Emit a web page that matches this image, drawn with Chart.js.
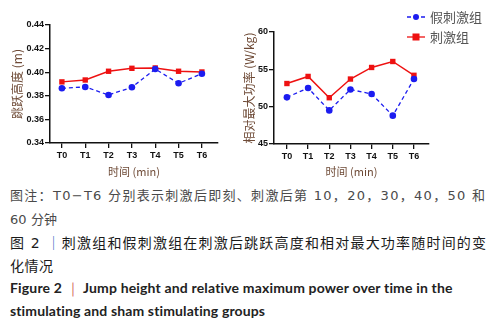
<!DOCTYPE html>
<html>
<head>
<meta charset="utf-8">
<script src="https://cdn.jsdelivr.net/npm/chart.js@4/dist/chart.umd.min.js"></script>
<style>
  body { margin: 0; background: #fff; width: 493px; height: 327px; overflow: hidden; position: relative; }
  .box { position: absolute; top: 0; height: 180px; }
  #leftBox { left: 0; width: 240px; }
  #rightBox { left: 240px; width: 253px; }
  .cap { position: absolute; left: 10px; white-space: nowrap; font-family: "DejaVu Sans", "Noto Sans CJK SC", sans-serif; line-height: 1; }
  .note { font-size: 13px; color: #4a4a4a; }
  .title { font-size: 14px; color: #1a1a1a; }
  .en { font-family: Lato, "Open Sans", sans-serif; font-weight: bold; font-size: 14px; color: #222; }
</style>
</head>
<body>
<div class="box" id="leftBox"><canvas id="jumpChart"></canvas></div>
<div class="box" id="rightBox"><canvas id="powerChart"></canvas></div>

<div class="cap note" style="top:189px" data-w="475">图注：T0−T6 分别表示刺激后即刻、刺激后第 10，20，30，40，50 和</div>
<div class="cap note" style="top:213px" data-w="47">60 分钟</div>
<div class="cap title" style="top:236px" data-w="476">图 2 <span style="color:#3060c0">｜</span>刺激组和假刺激组在刺激后跳跃高度和相对最大功率随时间的变</div>
<div class="cap title" style="top:259px" data-w="43">化情况</div>
<div class="cap en" style="top:281px" data-w="443">Figure 2 <span style="color:#d05050;font-weight:normal">｜</span> Jump height and relative maximum power over time in the</div>
<div class="cap en" style="top:304px" data-w="256">stimulating and sham stimulating groups</div>

<script>
// 数据
const timeLabels = ['T0', 'T1', 'T2', 'T3', 'T4', 'T5', 'T6'];
const jumpSham = [0.3864, 0.3875, 0.3807, 0.3872, 0.4027, 0.3906, 0.3987];
const jumpStim = [0.3918, 0.3934, 0.4008, 0.4033, 0.4036, 0.4008, 0.4002];
const powerSham = [51.25, 52.5, 49.5, 52.3, 51.7, 48.8, 53.7];
const powerStim = [53.1, 54.05, 51.2, 53.7, 55.25, 56.05, 54.2];
const jumpTicks = [0.34, 0.36, 0.38, 0.40, 0.42, 0.44];
const powerTicks = [45, 50, 55, 60];

const blue = '#1c1cf0';
const red = '#ee1111';
const titleColor = '#6e4a36';

function toPoints(arr) {
    return arr.map(function(v, i) { return { x: i, y: v }; });
}

function makeDatasets(sham, stim) {
    return [{
        label: '假刺激组',
        data: toPoints(sham),
        borderColor: blue,
        backgroundColor: blue,
        borderWidth: 1.3,
        borderDash: [4, 3],
        pointStyle: 'circle',
        pointRadius: 3.3,
        pointBorderWidth: 0
    }, {
        label: '刺激组',
        data: toPoints(stim),
        borderColor: red,
        backgroundColor: red,
        borderWidth: 1.5,
        pointStyle: 'rect',
        pointRadius: 3.8,
        pointBorderWidth: 0
    }];
}

// 自己画图例
const legendPlugin = {
    id: 'customLegend',
    afterDraw: function(chart, args, opts) {
        if (!opts.show) return;
        const ctx = chart.ctx;
        ctx.save();
        chart.data.datasets.forEach(function(ds, i) {
            const y = opts.y + i * opts.gap;
            ctx.strokeStyle = ds.borderColor;
            ctx.lineWidth = 1.3;
            ctx.setLineDash(ds.borderDash || []);
            ctx.beginPath();
            ctx.moveTo(opts.x, y);
            ctx.lineTo(opts.x + 18, y);
            ctx.stroke();
            ctx.setLineDash([]);
            ctx.fillStyle = ds.backgroundColor;
            if (ds.pointStyle === 'rect') {
                ctx.fillRect(opts.x + 9 - 3.5, y - 3.5, 7, 7);
            } else {
                ctx.beginPath();
                ctx.arc(opts.x + 9, y, 3, 0, Math.PI * 2);
                ctx.fill();
            }
            ctx.fillStyle = '#555';
            ctx.font = '13px "Noto Sans CJK SC"';
            ctx.textBaseline = 'middle';
            ctx.fillText(ds.label, opts.x + 23, y);
        });
        ctx.restore();
    }
};

function makeConfig(sham, stim, o) {
    return {
        type: 'line',
        data: { datasets: makeDatasets(sham, stim) },
        options: {
            responsive: true,
            maintainAspectRatio: false,
            animation: false,
            layout: { padding: { top: o.top, right: o.right, left: 0, bottom: 0 } },
            plugins: {
                legend: { display: false },
                tooltip: { enabled: false },
                customLegend: o.legend
            },
            scales: {
                x: {
                    type: 'linear',
                    min: o.xmin,
                    max: o.xmax,
                    afterFit: function(scale) { scale.height = o.xh; },
                    ticks: {
                        stepSize: 1,
                        includeBounds: false,
                        color: '#111',
                        font: { family: 'Liberation Sans', size: 9, weight: 'bold' },
                        padding: 2,
                        maxRotation: 0,
                        callback: function(v) { return timeLabels[v]; }
                    },
                    grid: { display: true, drawOnChartArea: false, drawTicks: true, tickLength: 5, color: '#111', lineWidth: 1.3 },
                    border: { color: '#111', width: 1.5 },
                    title: {
                        display: true,
                        text: '时间 (min)',
                        color: titleColor,
                        font: { family: 'Noto Sans CJK SC', size: 11 },
                        padding: { top: 0, bottom: 2 }
                    }
                },
                y: {
                    min: o.ymin,
                    max: o.ymax,
                    afterFit: function(scale) { scale.width = o.yw; },
                    afterBuildTicks: function(scale) {
                        scale.ticks = o.yticks.map(function(v) { return { value: v }; });
                    },
                    ticks: {
                        color: '#111',
                        font: { family: 'Liberation Sans', size: 9, weight: 'bold' },
                        padding: 1,
                        callback: function(v) { return o.fmt(v); }
                    },
                    grid: { display: true, drawOnChartArea: false, drawTicks: true, tickLength: 5, color: '#111', lineWidth: 1.3 },
                    border: { color: '#111', width: 1.5 },
                    title: {
                        display: true,
                        text: o.ytitle,
                        color: titleColor,
                        font: { family: 'Noto Sans CJK SC', size: 12 },
                        padding: { top: o.ytp, bottom: 0 }
                    }
                }
            }
        },
        plugins: [legendPlugin]
    };
}

new Chart(document.getElementById('jumpChart'), makeConfig(jumpSham, jumpStim, {
    top: 25, right: 22, xh: 37, yw: 50,
    xmin: -0.51, xmax: 6.69,
    ymin: 0.34, ymax: 0.44, yticks: jumpTicks,
    fmt: function(v) { return v.toFixed(2); },
    ytitle: '跳跃高度 (m)', ytp: 10,
    legend: { show: false }
}));

new Chart(document.getElementById('powerChart'), makeConfig(powerSham, powerStim, {
    top: 32, right: 64, xh: 36, yw: 34,
    xmin: -0.61, xmax: 6.71,
    ymin: 45, ymax: 60, yticks: powerTicks,
    fmt: function(v) { return String(v); },
    ytitle: '相对最大功率 (W/kg)', ytp: 2,
    legend: { show: true, x: 167, y: 17, gap: 20 }
}));

// 调整标题文字宽度
document.querySelectorAll('.cap').forEach(function(el) {
    const target = parseFloat(el.dataset.w);
    const w = el.getBoundingClientRect().width;
    const n = el.textContent.length;
    if (n > 1) el.style.letterSpacing = ((target - w) / (n - 1)) + 'px';
});
</script>
</body>
</html>
